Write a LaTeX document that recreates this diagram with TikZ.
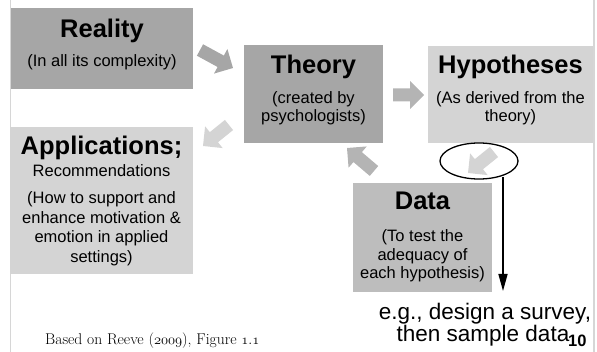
\documentclass[tikz,border=0pt]{standalone}
\usepackage{fontspec}
\newfontfamily\arial{Liberation Sans}
\usetikzlibrary{calc,arrows.meta,shapes.geometric}
\definecolor{dgray}{HTML}{A6A6A6}
\definecolor{mgray}{HTML}{BDBDBD}
\definecolor{lgray}{HTML}{D4D4D4}
\definecolor{agray}{HTML}{B4B4B4}
\definecolor{edge}{HTML}{D6D6D6}
\newcommand\blockarrow[3]{%
  \path let \p1=($(#3)-(#2)$) in \pgfextra{%
    \pgfmathparse{atan2(\y1,\x1)}\xdef\baang{\pgfmathresult}%
    \pgfmathparse{veclen(\x1,\y1)}\xdef\balen{\pgfmathresult}};
  \fill[#1, shift={(#2)}, rotate=\baang]
    (0pt,6.5pt) -- ({\balen*1pt-14pt},6.5pt) -- ({\balen*1pt-14pt},14pt)
    -- ({\balen*1pt},0pt) -- ({\balen*1pt-14pt},-14pt)
    -- ({\balen*1pt-14pt},-6.5pt) -- (0pt,-6.5pt) -- cycle;}
\begin{document}
\begin{tikzpicture}[x=1pt,y=-1pt,
  box/.style={inner sep=0pt, outer sep=0pt, anchor=north west},
  ttl/.style={font=\arial\bfseries\fontsize{25.5}{28}\selectfont, anchor=base, inner sep=0pt},
  txt/.style={font=\arial\fontsize{16.5}{19}\selectfont, anchor=base, inner sep=0pt},
  note/.style={font=\arial\fontsize{22.5}{24}\selectfont, anchor=base, inner sep=0pt},
]
\useasboundingbox (0,0) rectangle (597,352);
% page edges
\coordinate (lt) at (10.5,0); \coordinate (lb) at (10.5,352);
\coordinate (rt) at (594,0); \coordinate (rb) at (594,352);
\draw[edge, line width=1.2pt] (lt) -- (lb);
\draw[edge, line width=1.2pt] (rt) -- (rb);
% boxes
\node[box, fill=dgray, minimum width=182pt, minimum height=81pt] (reality) at (11,8) {};
\node[box, fill=dgray, minimum width=139pt, minimum height=98pt] (theory) at (244,45) {};
\node[box, fill=lgray, minimum width=165pt, minimum height=97pt] (hyp) at (428,46) {};
\node[box, fill=lgray, minimum width=183pt, minimum height=147pt] (app) at (10,127) {};
\node[box, fill=mgray, minimum width=139pt, minimum height=109pt] (data) at (353,183) {};
% texts
\node[ttl] (reality-t) at ($(reality.north)+(0,29.5)$) {Reality};
\node[txt] (reality-s) at ($(reality.north)+(0,59)$) {(In all its complexity)};
\node[ttl] (theory-t) at ($(theory.north)+(0,29)$) {Theory};
\node[txt] (theory-s1) at ($(theory.north)+(0,59)$) {(created by};
\node[txt] (theory-s2) at ($(theory.north)+(0,77)$) {psychologists)};
\node[ttl] (hyp-t) at ($(hyp.north)+(0,28)$) {Hypotheses};
\node[txt] (hyp-s1) at ($(hyp.north)+(0,58)$) {(As derived from the};
\node[txt] (hyp-s2) at ($(hyp.north)+(0,76)$) {theory)};
\node[ttl] (app-t) at ($(app.north)+(0,28)$) {Applications;};
\node[txt] (app-s0) at ($(app.north)+(0,50)$) {Recommendations};
\node[txt] (app-s1) at ($(app.north)+(0,77)$) {(How to support and};
\node[txt] (app-s2) at ($(app.north)+(0,96.5)$) {enhance motivation \&};
\node[txt] (app-s3) at ($(app.north)+(0,116)$) {emotion in applied};
\node[txt] (app-s4) at ($(app.north)+(0,135.5)$) {settings)};
\node[ttl] (data-t) at ($(data.north)+(0,27)$) {Data};
\node[txt] (data-s1) at ($(data.north)+(0,59)$) {(To test the};
\node[txt] (data-s2) at ($(data.north)+(0,77.5)$) {adequacy of};
\node[txt] (data-s3) at ($(data.north)+(0,96)$) {each hypothesis)};
% block arrows
\coordinate (a1s) at (200,50);  \coordinate (a1e) at (233,68);
\coordinate (a2s) at (393,95);  \coordinate (a2e) at (424,95);
\coordinate (a3s) at (229,125); \coordinate (a3e) at (203,146);
\coordinate (a4s) at (374,171); \coordinate (a4e) at (347,148);
\coordinate (a5s) at (494,152); \coordinate (a5e) at (468,173);
\blockarrow{dgray}{a1s}{a1e}
\blockarrow{agray}{a2s}{a2e}
\blockarrow{lgray}{a3s}{a3e}
\blockarrow{agray}{a4s}{a4e}
\blockarrow{lgray}{a5s}{a5e}
% ellipse and pointer
\node[ellipse, draw=black, line width=1.3pt, minimum width=78pt, minimum height=36pt, inner sep=0pt] (oval) at (479,161) {};
\coordinate (vtop) at (503,177);
\coordinate (vbot) at (503,291);
\draw[line width=1.5pt, -{Triangle[length=17pt,width=9pt]}] (vtop) -- (vbot);
\node[note] (eg1) at (485,320) {e.g., design a survey,};
\node[note] (eg2) at (483,342) {then sample data};
\node[font=\arial\bfseries\fontsize{16.5}{18}\selectfont, anchor=base west, inner sep=0pt] (pg) at (568,347) {10};
\node[font=\fontsize{15.6}{17}\selectfont, anchor=base west, inner sep=0pt] (src) at (45,345) {Based on Reeve ($\mathnormal{2009}$), Figure $\mathnormal{1.1}$};
\end{tikzpicture}
\end{document}
